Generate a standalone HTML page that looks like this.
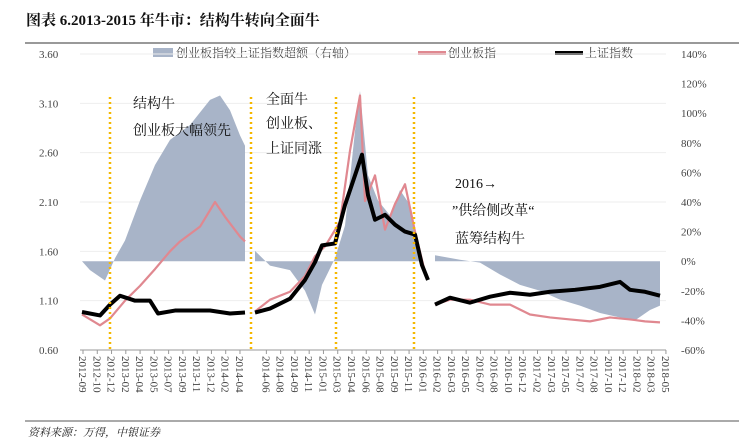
<!DOCTYPE html>
<html><head><meta charset="utf-8"><style>
body{margin:0;background:#fff;width:739px;height:442px;overflow:hidden;font-family:"Liberation Serif","Noto Serif CJK SC",serif}
svg text{font-family:"Liberation Serif","Noto Serif CJK SC",serif}
</style></head><body>
<svg id="c" width="739" height="442" xmlns="http://www.w3.org/2000/svg">
<text x="26" y="25" font-size="15" font-weight="bold" fill="#111">图表 6.2013-2015 年牛市：结构牛转向全面牛</text>
<line x1="25" y1="43" x2="739" y2="43" stroke="#333" stroke-width="1"/>
<g>
<rect x="153" y="48" width="20" height="9" fill="#a8b4c8"/>
<text x="176" y="57" font-size="12" fill="#444">创业板指较上证指数超额（右轴）</text>
<line x1="418" y1="53" x2="446" y2="53" stroke="#e08890" stroke-width="4"/>
<text x="448" y="57" font-size="12" fill="#444">创业板指</text>
<line x1="555" y1="53" x2="583" y2="53" stroke="#000" stroke-width="4"/>
<text x="585" y="57" font-size="12" fill="#444">上证指数</text>
</g>
<g id="notes" font-size="14" fill="#111">
<text x="133" y="108">结构牛</text>
<text x="133" y="135">创业板大幅领先</text>
<text x="266" y="104">全面牛</text>
<text x="266" y="128">创业板、</text>
<text x="266" y="153">上证同涨</text>
<text x="455" y="188">2016→</text>
<text x="452" y="215">”供给侧改革“</text>
<text x="455" y="243">蓝筹结构牛</text>
</g>
<line x1="25" y1="421" x2="739" y2="421" stroke="#555" stroke-width="1"/>
<text x="28" y="436" font-size="11" font-style="italic" fill="#222">资料来源：万得，中银证券</text>
</svg>
<script>
const leftTicks=["0.60","1.10","1.60","2.10","2.60","3.10","3.60"];
const rightTicks=["-60%","-40%","-20%","0%","20%","40%","60%","80%","100%","120%","140%"];
const xLabels=["2012-09","2012-10","2012-12","2013-02","2013-04","2013-05","2013-07","2013-09","2013-11","2013-12","2014-02","2014-04","2014-06","2014-08","2014-09","2014-11","2015-01","2015-03","2015-04","2015-06","2015-08","2015-09","2015-11","2016-01","2016-02","2016-03","2016-05","2016-07","2016-08","2016-10","2016-12","2017-02","2017-03","2017-05","2017-07","2017-08","2017-10","2017-12","2018-02","2018-03","2018-05"];
const eventT=[2.8,16.9,25.4,33.2];
const shT=[[0,1.8,2.8,3.8,5.3,6.8,7.6,9.3,10.8,12.8,14.8,16.3],[17.3,18.8,20.8,22.3,23.3,24,25.3,26.3,27.3,28,28.6,29.3,30.3,31.3,32.3,33.3,34,34.6],[35.3,36.8,38.8,40.8,42.8,44.8,46.8,49.3,51.8,53.8,54.8,56.3,57.8]];
const shV=[[0.985,0.95,1.06,1.15,1.10,1.10,0.97,1.0,1.0,1.0,0.97,0.98],[0.98,1.02,1.12,1.31,1.49,1.66,1.68,2.07,2.37,2.58,2.17,1.92,1.97,1.87,1.80,1.77,1.46,1.31],[1.06,1.13,1.08,1.14,1.18,1.16,1.19,1.21,1.24,1.29,1.21,1.19,1.15]];
const cybT=[[0,1.8,2.8,4.3,5.8,7.3,8.8,9.8,11.8,13.3,14.3,15.8,16.3],[17.3,18.8,20.8,22.3,23.3,24.3,25.8,26.8,27.8,28.3,29.3,30.3,31.3,32.3,33.3,34.3],[35.3,36.8,38.8,40.8,42.8,44.8,46.8,48.8,50.8,52.8,54.8,56.3,57.8]];
const cybV=[[0.96,0.85,0.92,1.10,1.25,1.42,1.60,1.70,1.85,2.10,1.95,1.75,1.70],[0.99,1.11,1.19,1.35,1.55,1.65,1.90,2.62,3.18,2.11,2.37,1.82,2.08,2.28,1.80,1.39],[1.06,1.11,1.11,1.06,1.06,0.96,0.93,0.91,0.89,0.93,0.91,0.89,0.88]];
const exT=[[0,0.8,2.3,3.3,4.3,5.8,7.3,8.8,10.8,12.8,13.8,14.8,15.8,16.3],[17.3,18.8,20.8,22.3,23.3,24,25.3,26.3,27.3,27.8,28.6,29.6,30.8,31.8,32.8,33.8],[35.3,37.8,39.8,41.8,43.8,45.8,47.8,49.8,51.8,53.8,55.3,56.8,57.8]];
const exV=[[0,-6,-13,2,14,41,65,82,92,109,112,102,85,78],[7,-3,-6,-20,-36,-16,2,24,88,115,58,41,31,48,38,4],[4,1,-1,-9,-16,-20,-26,-30,-35,-38,-40,-33,-30]];

const NS="http://www.w3.org/2000/svg",svg=document.getElementById('c');
const X=t=>82+t*10, YL=v=>350-(v-0.6)/3*296, YR=p=>350-(p+60)/200*296;
const XL=i=>83+(i+(i>=12?0.85:0))*14.27;
function mk(tag,attrs,parent){const e=document.createElementNS(NS,tag);for(const k in attrs)e.setAttribute(k,attrs[k]);(parent||svg).appendChild(e);return e;}
const plot=mk('g',{});


leftTicks.forEach(s=>{const y=YL(parseFloat(s));
 const g=mk('line',{x1:80,x2:666,y1:y,y2:y,stroke:'#eee','stroke-width':1},plot);
 
 const t=mk('text',{x:39,y:y+4,'font-size':11,fill:'#444'});t.textContent=s;
 
 });
rightTicks.forEach(s=>{const y=YR(parseFloat(s));
 const t=mk('text',{x:681,y:y+4,'font-size':11,fill:'#444'});t.textContent=s;
 
 });
exT.forEach((ts,k)=>{let d='M'+X(ts[0])+','+YR(0);ts.forEach((t,i)=>d+='L'+X(t)+','+YR(exV[k][i]));d+='L'+X(ts[ts.length-1])+','+YR(0)+'Z';
 const p=mk('path',{d:d,fill:'#a8b4c8'},plot);
 
 });
function line(T,V,col,w,name){T.forEach((ts,k)=>{const d=ts.map((t,i)=>(i?'L':'M')+X(t)+','+YL(V[k][i])).join('');
 const p=mk('path',{d:d,fill:'none',stroke:col,'stroke-width':w,'stroke-linejoin':'round'},plot);
 
 });}
line(cybT,cybV,'#e08890',2.2,'chinext-line');
line(shT,shV,'#000',4,'sh-index-line');
eventT.forEach(t=>{const l=mk('line',{x1:X(t),x2:X(t),y1:97,y2:352,stroke:'#f5b800','stroke-width':2.5,'stroke-dasharray':'2,3'},plot);
 
 });
const ax=mk('line',{x1:80,x2:666,y1:350,y2:350,stroke:'#999','stroke-width':1});


xLabels.forEach((s,i)=>{const x=XL(i);
 mk('line',{x1:x,x2:x,y1:350,y2:354,stroke:'#999'});
 const t=mk('text',{x:0,y:0,'font-size':11,fill:'#444',transform:`translate(${x-4},356) rotate(90)`});t.textContent=s;
 
 });
svg.appendChild(document.getElementById('notes'));
</script>
</body></html>
